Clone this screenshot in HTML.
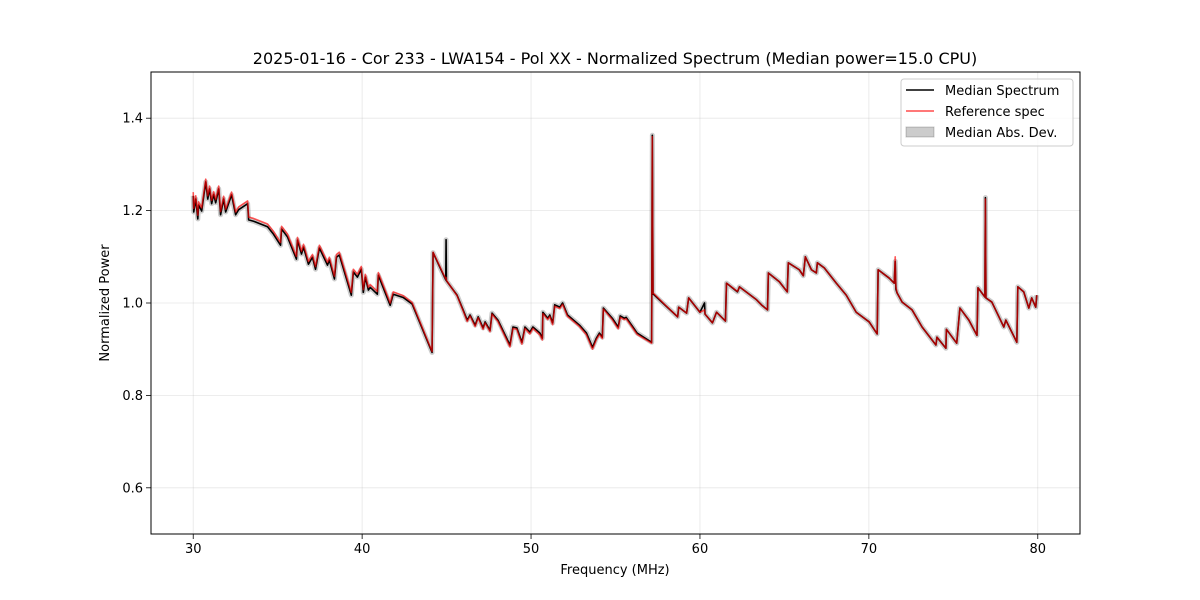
<!DOCTYPE html>
<html><head><meta charset="utf-8">
<style>
html,body{margin:0;padding:0;background:#fff;}
svg{display:block;font-family:"DejaVu Sans","Liberation Sans",sans-serif;}
</style></head>
<body>
<svg id="chart" width="1200" height="600" viewBox="0 0 1200 600">
<rect x="0" y="0" width="1200" height="600" fill="#fff"/>
<text x="615" y="64" text-anchor="middle" font-size="16" fill="#000">2025-01-16 - Cor 233 - LWA154 - Pol XX - Normalized Spectrum (Median power=15.0 CPU)</text>
<g id="grid"></g>
<g id="series"></g>
<rect x="151" y="72" width="929" height="462" fill="none" stroke="#000" stroke-width="1"/>
<g id="ticks"></g>
<text x="615" y="574" text-anchor="middle" font-size="13">Frequency (MHz)</text>
<text x="0" y="0" transform="translate(109,303) rotate(-90)" text-anchor="middle" font-size="13">Normalized Power</text>
<g>
<rect x="901" y="79" width="172" height="67" rx="3" fill="#fff" fill-opacity="0.8" stroke="#ccc"/>
<line x1="906" y1="90" x2="934" y2="90" stroke="#000" stroke-width="1.5"/>
<text x="945" y="95" font-size="13">Median Spectrum</text>
<line x1="906" y1="111" x2="934" y2="111" stroke="#f00" stroke-opacity="0.7" stroke-width="1.5"/>
<text x="945" y="116" font-size="13">Reference spec</text>
<rect x="906" y="127" width="28" height="10" fill="#000" fill-opacity="0.2" stroke="#000" stroke-opacity="0.2"/>
<text x="945" y="137" font-size="13">Median Abs. Dev.</text>
</g>
</svg>
<script>
const xTicks = [30, 40, 50, 60, 70, 80];
const yTicks = [0.6, 0.8, 1.0, 1.2, 1.4];
const freqs = [30.0,30.03,30.15,30.27,30.32,30.5,30.74,30.86,30.97,31.09,31.21,31.33,31.51,31.62,31.8,31.92,32.27,32.51,32.69,33.22,33.28,33.57,34.4,34.75,35.17,35.23,35.58,36.11,36.17,36.41,36.53,36.82,37.06,37.24,37.47,37.95,38.06,38.36,38.48,38.65,39.36,39.48,39.72,39.95,40.07,40.19,40.37,40.48,40.9,40.96,41.66,41.84,42.43,42.96,44.14,44.2,44.95,44.97,44.99,45.62,45.98,46.22,46.39,46.69,46.87,47.16,47.28,47.57,47.69,48.04,48.75,48.93,49.16,49.46,49.64,49.93,50.11,50.52,50.67,50.7,50.99,51.11,51.28,51.4,51.7,51.87,52.16,52.87,53.28,53.64,53.87,54.05,54.22,54.28,54.81,55.16,55.28,55.52,55.63,56.28,57.14,57.18,57.22,57.91,58.68,58.74,59.21,59.33,60.0,60.27,60.3,60.74,60.98,61.51,61.57,62.22,62.34,63.35,63.64,64.0,64.05,64.7,65.17,65.23,65.88,66.12,66.24,66.6,66.89,66.95,67.36,68.07,68.66,69.25,70.02,70.49,70.55,71.2,71.5,71.56,71.6,71.67,71.97,72.56,73.15,73.97,74.03,74.56,74.59,75.2,75.39,75.92,76.4,76.46,76.87,76.9,76.93,77.28,77.99,78.11,78.76,78.82,79.17,79.47,79.64,79.88,79.94];
const medianValues = [1.232,1.197,1.225,1.182,1.212,1.199,1.262,1.225,1.247,1.215,1.235,1.217,1.247,1.191,1.225,1.197,1.234,1.191,1.202,1.215,1.180,1.177,1.165,1.149,1.125,1.160,1.143,1.095,1.136,1.106,1.121,1.084,1.099,1.073,1.119,1.082,1.093,1.052,1.099,1.104,1.017,1.067,1.056,1.073,1.023,1.056,1.028,1.034,1.019,1.060,0.995,1.019,1.012,0.998,0.893,1.109,1.050,1.137,1.048,1.017,0.985,0.963,0.974,0.952,0.970,0.946,0.959,0.941,0.978,0.963,0.909,0.948,0.946,0.915,0.948,0.937,0.948,0.935,0.924,0.980,0.967,0.974,0.957,0.996,0.991,1.000,0.974,0.952,0.935,0.904,0.924,0.935,0.926,0.989,0.967,0.948,0.972,0.967,0.969,0.935,0.915,1.363,1.020,0.996,0.970,0.991,0.978,1.011,0.980,1.000,0.976,0.957,0.980,0.961,1.043,1.024,1.035,1.007,0.996,0.985,1.065,1.046,1.024,1.087,1.072,1.059,1.100,1.072,1.065,1.087,1.076,1.043,1.017,0.980,0.959,0.933,1.072,1.054,1.043,1.090,1.030,1.022,1.002,0.985,0.948,0.909,0.926,0.902,0.943,0.913,0.989,0.963,0.930,1.033,1.013,1.228,1.011,1.002,0.948,0.963,0.915,1.035,1.024,0.989,1.011,0.991,1.017];
const refValues = [1.240,1.205,1.232,1.190,1.219,1.206,1.268,1.232,1.253,1.222,1.241,1.224,1.253,1.198,1.231,1.203,1.240,1.197,1.208,1.221,1.186,1.183,1.171,1.155,1.131,1.166,1.149,1.101,1.142,1.112,1.127,1.090,1.105,1.079,1.125,1.088,1.099,1.058,1.105,1.110,1.023,1.073,1.062,1.079,1.029,1.062,1.034,1.040,1.025,1.066,1.000,1.024,1.016,1.001,0.895,1.110,1.052,1.055,1.049,1.016,0.983,0.960,0.972,0.949,0.968,0.943,0.957,0.938,0.976,0.960,0.905,0.945,0.943,0.911,0.945,0.933,0.945,0.931,0.920,0.977,0.964,0.971,0.953,0.993,0.988,0.997,0.971,0.949,0.931,0.900,0.921,0.932,0.923,0.987,0.964,0.944,0.969,0.964,0.966,0.932,0.913,1.360,1.022,0.997,0.970,0.991,0.978,1.011,0.980,0.985,0.976,0.957,0.980,0.961,1.043,1.025,1.035,1.007,0.996,0.985,1.065,1.046,1.024,1.087,1.072,1.059,1.100,1.072,1.065,1.087,1.076,1.043,1.017,0.980,0.959,0.933,1.072,1.054,1.043,1.100,1.035,1.022,1.002,0.985,0.948,0.909,0.926,0.902,0.943,0.913,0.989,0.963,0.930,1.033,1.013,1.225,1.011,1.002,0.948,0.963,0.915,1.035,1.024,0.989,1.011,0.991,1.017];

const NS = 'http://www.w3.org/2000/svg';
const X0 = 151, X1 = 1080, Y0 = 72, Y1 = 534;
const xMin = 27.5, xMax = 82.5, yMin = 0.5, yMax = 1.5;
function xs(v){ return X0 + (v - xMin) / (xMax - xMin) * (X1 - X0); }
function ys(v){ return Y1 - (v - yMin) / (yMax - yMin) * (Y1 - Y0); }
function mk(tag, attrs, parent){
  const e = document.createElementNS(NS, tag);
  for (const k in attrs) e.setAttribute(k, attrs[k]);
  parent.appendChild(e);
  return e;
}
const grid = document.getElementById('grid');
const ticks = document.getElementById('ticks');
const series = document.getElementById('series');

xTicks.forEach(t => {
  const x = xs(t);
  const g = mk('line', {x1:x, x2:x, y1:Y0, y2:Y1, stroke:'#b0b0b0', 'stroke-opacity':0.3, 'stroke-width':0.8}, grid);
  
  
  const tk = mk('line', {x1:x, x2:x, y1:Y1, y2:Y1+5, stroke:'#000', 'stroke-width':0.8}, ticks);
  
  
  const lb = mk('text', {x:x, y:Y1+19, 'text-anchor':'middle', 'font-size':13}, ticks);
  lb.textContent = String(t);
  
  
});
yTicks.forEach(t => {
  const y = ys(t);
  const g = mk('line', {x1:X0, x2:X1, y1:y, y2:y, stroke:'#b0b0b0', 'stroke-opacity':0.3, 'stroke-width':0.8}, grid);
  
  
  const tk = mk('line', {x1:X0-5, x2:X0, y1:y, y2:y, stroke:'#000', 'stroke-width':0.8}, ticks);
  
  
  const lb = mk('text', {x:X0-8, y:y+4.5, 'text-anchor':'end', 'font-size':13}, ticks);
  lb.textContent = t.toFixed(1);
  
  
});

function pathFor(vals){
  return freqs.map((f, i) => (i ? 'L' : 'M') + xs(f).toFixed(2) + ',' + ys(vals[i]).toFixed(2)).join(' ');
}
const band = mk('path', {d:pathFor(medianValues), fill:'none', stroke:'#000', 'stroke-opacity':0.2, 'stroke-width':5, 'stroke-linejoin':'round'}, series);


const med = mk('path', {d:pathFor(medianValues), fill:'none', stroke:'#000', 'stroke-width':1.6, 'stroke-linejoin':'round'}, series);


const ref = mk('path', {d:pathFor(refValues), fill:'none', stroke:'#f00', 'stroke-opacity':0.65, 'stroke-width':1.6, 'stroke-linejoin':'round'}, series);


</script>
</body></html>
